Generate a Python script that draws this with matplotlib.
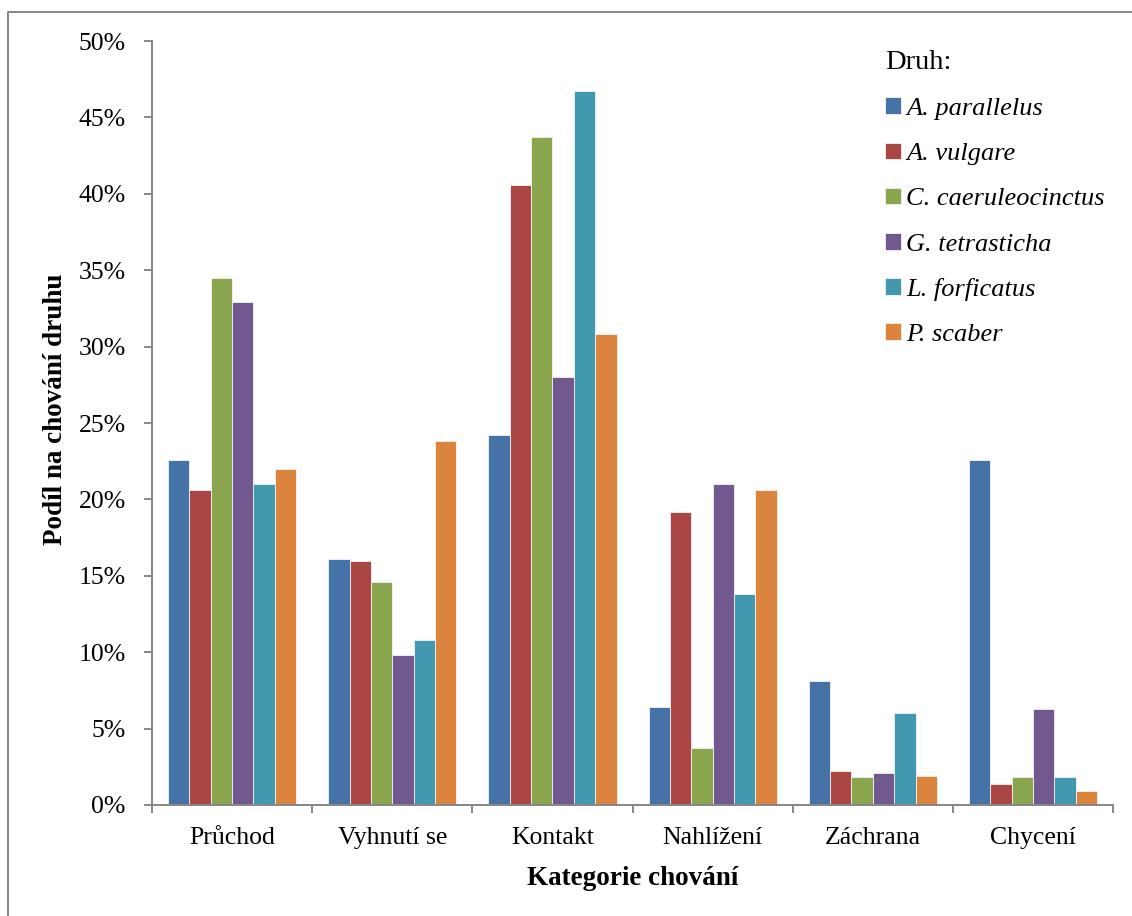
import matplotlib.pyplot as plt
from matplotlib.lines import Line2D
import numpy as np

plt.rcParams['font.family'] = ['Liberation Serif', 'DejaVu Serif']

categories = ['Průchod', 'Vyhnutí se', 'Kontakt', 'Nahlížení', 'Záchrana', 'Chycení']
species = ['A. parallelus', 'A. vulgare', 'C. caeruleocinctus',
           'G. tetrasticha', 'L. forficatus', 'P. scaber']
colors = ['#4572A7', '#AA4643', '#89A54E', '#71588F', '#4198AF', '#DB843D']

# podíl (%) pro každý druh v jednotlivých kategoriích
a_parallelus = [22.6, 16.1, 24.2, 6.4, 8.1, 22.6]
a_vulgare = [20.6, 16.0, 40.6, 19.2, 2.2, 1.4]
c_caeruleocinctus = [34.5, 14.6, 43.7, 3.7, 1.8, 1.8]
g_tetrasticha = [32.9, 9.8, 28.0, 21.0, 2.1, 6.3]
l_forficatus = [21.0, 10.8, 46.7, 13.8, 6.0, 1.8]
p_scaber = [22.0, 23.8, 30.8, 20.6, 1.9, 0.9]

series = [a_parallelus, a_vulgare, c_caeruleocinctus,
          g_tetrasticha, l_forficatus, p_scaber]

fig = plt.figure(figsize=(11.32, 9.16), dpi=100)
ax = fig.add_axes([0.1343, 0.1212, 0.849, 0.834])

x = np.arange(len(categories))
w = 0.8 / len(series)
for i, (vals, name, c) in enumerate(zip(series, species, colors)):
    ax.bar(x - 0.4 + w * (i + 0.5), vals, width=w, color=c,
           edgecolor='#f4f4f4', linewidth=0.6, label=name)

grey = '#868686'
ax.set_xlim(-0.5, len(categories) - 0.5)
ax.set_ylim(0, 50)
ax.set_yticks(np.arange(0, 51, 5))
ax.set_yticklabels([f'{v}%' for v in range(0, 51, 5)])
ax.set_xticks(x)
ax.set_xticklabels(categories)
ax.set_xticks(np.arange(-0.5, len(categories)), minor=True)

for s in ['top', 'right']:
    ax.spines[s].set_visible(False)
for s in ['left', 'bottom']:
    ax.spines[s].set_color(grey)
    ax.spines[s].set_linewidth(1.4)

ax.tick_params(axis='y', length=6, width=1.4, color=grey, pad=13, labelsize=18.5)
ax.tick_params(axis='x', which='major', length=0, pad=16, labelsize=18.5)
ax.tick_params(axis='x', which='minor', length=6, width=1.4, color=grey)

ax.set_ylabel('Podíl na chování druhu', fontsize=19.5, fontweight='bold')
ax.yaxis.set_label_coords(-0.087, 0.518)
ax.set_xlabel('Kategorie chování', fontsize=19.5, fontweight='bold', labelpad=12)

leg = ax.legend(title='Druh:', loc='upper left', bbox_to_anchor=(0.752, 1.002),
                frameon=False, prop={'style': 'italic', 'size': 19},
                title_fontsize=20.5, handlelength=0.6, handleheight=0.6,
                handletextpad=0.2, labelspacing=0.85, borderaxespad=0)
leg._legend_box.align = 'left'

# okraj oblasti grafu (vlevo a nahoře)
fig.add_artist(Line2D([0.0071, 0.0071, 1.0], [0.0, 0.9869, 0.9869],
                      transform=fig.transFigure, color=grey, linewidth=1.4))

fig.savefig('out.png', dpi=100)
